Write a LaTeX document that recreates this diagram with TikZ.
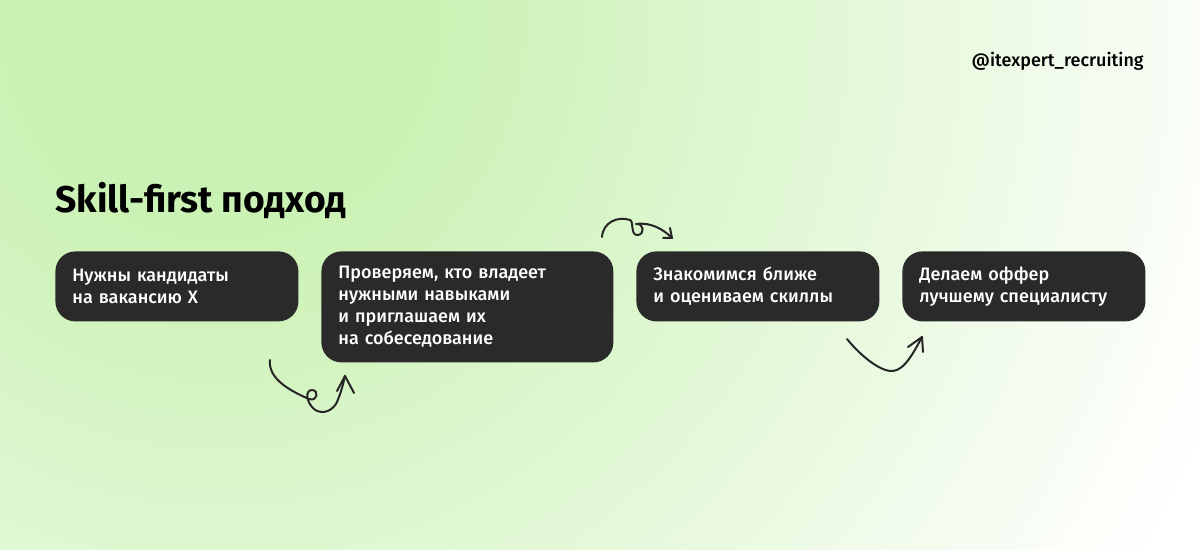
\documentclass[tikz,border=0pt]{standalone}
\usepackage{fontspec}
\setmainfont{Fira Sans}[UprightFont=* Medium, BoldFont=* Bold]
\definecolor{boxgrau}{RGB}{42,42,42}
\definecolor{gruenA}{RGB}{203,242,181}
\tikzset{
  kasten/.style={fill=boxgrau, rounded corners=10pt, text=white, align=left,
    anchor=north west, inner xsep=8.5pt, inner ysep=0pt,
    font=\fontsize{9}{11}\selectfont},
  kritzel/.style={line width=1pt, line cap=round, line join=round, color=black!85}
}
\begin{document}
\begin{tikzpicture}[x=0.5pt, y=-0.5pt]
	\useasboundingbox (0,0) rectangle (1200,550);
	% Hintergrund
	\begin{scope}
		\clip (0,0) rectangle (1200,550);
		\fill[white] (0,0) rectangle (1200,550);
		\foreach \i in {0,...,50} {
			\pgfmathsetmacro{\rad}{(1080-18*\i)/2}
			\pgfmathsetmacro{\anteil}{min(100,2.1*\i)}
			\fill[gruenA!\anteil!white] (220,20) circle (\rad pt);
		}
	\end{scope}
	% Beschriftung
	\node[anchor=base east, inner sep=0pt, font=\fontsize{9}{10}\selectfont] (handle) at (1144,67) {@itexpert\_recruiting};
	\node[anchor=base west, inner sep=0pt, font=\fontsize{18.6}{20}\selectfont\bfseries] (titel) at (55,213) {Skill-first подход};
	% Kaesten
	\node[kasten, text width=104.5pt, minimum height=35pt] (schritt1) at (55,251) {Нужны кандидаты\\на вакансию X};
	\node[kasten, text width=129pt, minimum height=55.5pt] (schritt2) at (321,251) {Проверяем, кто владеет\\нужными навыками\\и приглашаем их\\на собеседование};
	\node[kasten, text width=104.5pt, minimum height=35pt] (schritt3) at (636,251) {Знакомимся ближе\\и оцениваем скиллы};
	\node[kasten, text width=104.5pt, minimum height=35pt] (schritt4) at (902,251) {Делаем оффер\\лучшему специалисту};
	% Pfeile
	\coordinate (a1) at (270,360);
	\coordinate (b1) at (345,376);
	\draw[kritzel] (a1) .. controls (268,378) and (288,390) .. (309,399)
		.. controls (318,402) and (319,390) .. (312,390)
		.. controls (305,390) and (306,402) .. (314,409)
		.. controls (320,414) and (330,413) .. (336,404)
		.. controls (340,396) and (343,385) .. (b1);
	\draw[kritzel] (337,391) -- (b1) -- (354,393);
	\coordinate (a2) at (602,237);
	\coordinate (b2) at (672,238);
	\draw[kritzel] (a2) .. controls (603,222) and (618,216) .. (630,220)
		.. controls (634,221) and (630,236) .. (638,235)
		.. controls (645,234) and (644,223) .. (636,224)
		.. controls (652,222) and (664,230) .. (b2);
	\draw[kritzel] (663,238) -- (b2) -- (670,228);
	\coordinate (a3) at (847,339);
	\coordinate (b3) at (922,337);
	\draw[kritzel] (a3) .. controls (860,355) and (880,372) .. (893,371)
		.. controls (905,370) and (915,350) .. (b3);
	\draw[kritzel] (908,347) -- (b3) -- (923,352);
\end{tikzpicture}
\end{document}
